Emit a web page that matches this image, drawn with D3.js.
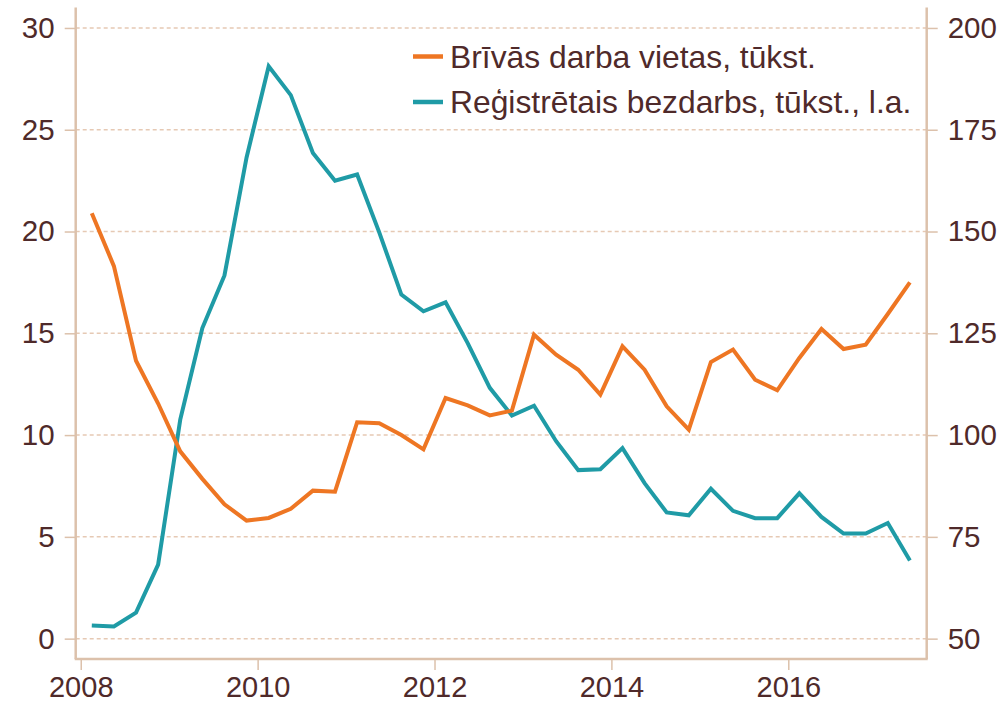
<!DOCTYPE html>
<html>
<head>
<meta charset="utf-8">
<script src="https://cdn.jsdelivr.net/npm/d3@7"></script>
<style>
  html, body { margin: 0; padding: 0; background: #ffffff; }
  svg { display: block; font-family: "Liberation Sans", Arial, sans-serif; }
</style>
</head>
<body>
<svg id="chart" width="1005" height="704"></svg>
<script>
// ---- Data ----
const quarters = [
  "2008Q1","2008Q2","2008Q3","2008Q4",
  "2009Q1","2009Q2","2009Q3","2009Q4",
  "2010Q1","2010Q2","2010Q3","2010Q4",
  "2011Q1","2011Q2","2011Q3","2011Q4",
  "2012Q1","2012Q2","2012Q3","2012Q4",
  "2013Q1","2013Q2","2013Q3","2013Q4",
  "2014Q1","2014Q2","2014Q3","2014Q4",
  "2015Q1","2015Q2","2015Q3","2015Q4",
  "2016Q1","2016Q2","2016Q3","2016Q4",
  "2017Q1","2017Q2"
];
// Brīvās darba vietas, tūkst. (left axis)
const vacancies = [
  20.9, 18.3, 13.65, 11.55,
  9.2, 7.85, 6.6, 5.8,
  5.93, 6.38, 7.27, 7.22,
  10.63, 10.58, 10.0, 9.3,
  11.82, 11.46, 10.97, 11.2,
  14.93, 13.95, 13.21, 11.99,
  14.36, 13.21, 11.41, 10.27,
  13.59, 14.2, 12.72, 12.2,
  13.79, 15.21, 14.23, 14.44,
  15.95, 17.5
];
// Reģistrētais bezdarbs, tūkst., l.a. (right axis)
const unemployment = [
  53.2, 53.0, 56.4, 68.2,
  103.8, 126.3, 139.2, 168.2,
  190.6, 183.5, 169.3, 162.5,
  164.0, 149.8, 134.5, 130.4,
  132.6, 122.6, 111.6, 104.8,
  107.2, 98.5, 91.4, 91.6,
  96.8, 88.2, 81.0, 80.3,
  86.8, 81.4, 79.6, 79.6,
  85.7, 79.9, 75.8, 75.8,
  78.4, 69.2
];
const leftTicks = [0, 5, 10, 15, 20, 25, 30];
const rightTicks = [50, 75, 100, 125, 150, 175, 200];
const yearTicks = [2008, 2010, 2012, 2014, 2016];
const seriesNames = ["Brīvās darba vietas, tūkst.", "Reģistrētais bezdarbs, tūkst., l.a."];
const seriesColors = ["#ee7623", "#1f9ba6"];

// ---- Layout ----
const textColor = "#4f2a2a";
const axisColor = "#dcc1ab";
const gridColor = "#e6c9b4";
const plot = { left: 75.7, right: 926.7, top: 7.6, bottom: 659 };

const svg = d3.select("#chart");

const toYear = q => +q.slice(0, 4) + (+q.slice(5) - 0.5) / 4;

const x = d3.scaleLinear().domain([2007.943, 2017.565]).range([plot.left, plot.right]);
const yL = d3.scaleLinear().domain([-1, 31]).range([plot.bottom, plot.top]);
const yR = d3.scaleLinear().domain([45, 205]).range([plot.bottom, plot.top]);

// gridlines
svg.append("g").selectAll("line").data(leftTicks).join("line")
  .attr("x1", plot.left).attr("x2", plot.right)
  .attr("y1", d => yL(d)).attr("y2", d => yL(d))
  .attr("stroke", gridColor).attr("stroke-width", 1.5)
  .attr("stroke-dasharray", "4 3");

// axes
function styleAxis(g, size) {
  g.select(".domain").remove();
  g.selectAll(".tick line").attr("stroke", axisColor).attr("stroke-width", 1.5);
  g.selectAll(".tick text").attr("fill", textColor).attr("font-size", size)
    .attr("font-family", "Liberation Sans, Arial, sans-serif");
}
svg.append("g").attr("transform", `translate(${plot.left},0)`)
  .call(d3.axisLeft(yL).tickValues(leftTicks).tickSize(11).tickPadding(10).tickFormat(d3.format("d")))
  .call(g => styleAxis(g, 29.5));
svg.append("g").attr("transform", `translate(${plot.right},0)`)
  .call(d3.axisRight(yR).tickValues(rightTicks).tickSize(11).tickPadding(10).tickFormat(d3.format("d")))
  .call(g => styleAxis(g, 29.5));
svg.append("g").attr("transform", `translate(0,${plot.bottom})`)
  .call(d3.axisBottom(x).tickValues(yearTicks).tickSize(11).tickPadding(6).tickFormat(d3.format("d")))
  .call(g => styleAxis(g, 29));

// frame lines (left, right, bottom)
svg.append("line").attr("x1", plot.left).attr("x2", plot.left).attr("y1", plot.top).attr("y2", plot.bottom)
  .attr("stroke", axisColor).attr("stroke-width", 2.5);
svg.append("line").attr("x1", plot.right).attr("x2", plot.right).attr("y1", plot.top).attr("y2", plot.bottom)
  .attr("stroke", axisColor).attr("stroke-width", 2.5);
svg.append("line").attr("x1", plot.left - 1).attr("x2", plot.right + 1).attr("y1", plot.bottom).attr("y2", plot.bottom)
  .attr("stroke", axisColor).attr("stroke-width", 2.5);

// lines
const lineR = d3.line().x((d, i) => x(toYear(quarters[i]))).y(d => yR(d));
const lineL = d3.line().x((d, i) => x(toYear(quarters[i]))).y(d => yL(d));
svg.append("path").datum(unemployment).attr("d", lineR)
  .attr("fill", "none").attr("stroke", seriesColors[1]).attr("stroke-width", 4)
  .attr("stroke-linejoin", "miter");
svg.append("path").datum(vacancies).attr("d", lineL)
  .attr("fill", "none").attr("stroke", seriesColors[0]).attr("stroke-width", 4)
  .attr("stroke-linejoin", "miter");

// legend
const legend = svg.append("g").attr("transform", "translate(413,56.5)");
seriesNames.forEach((name, i) => {
  const g = legend.append("g").attr("transform", `translate(0,${i * 45.5})`);
  g.append("line").attr("x1", 0).attr("x2", 30).attr("y1", 0).attr("y2", 0)
    .attr("stroke", seriesColors[i]).attr("stroke-width", 4.5);
  g.append("text").attr("x", 37).attr("y", 11).attr("fill", textColor)
    .attr("font-size", 31.8).text(name);
});
</script>
</body>
</html>
